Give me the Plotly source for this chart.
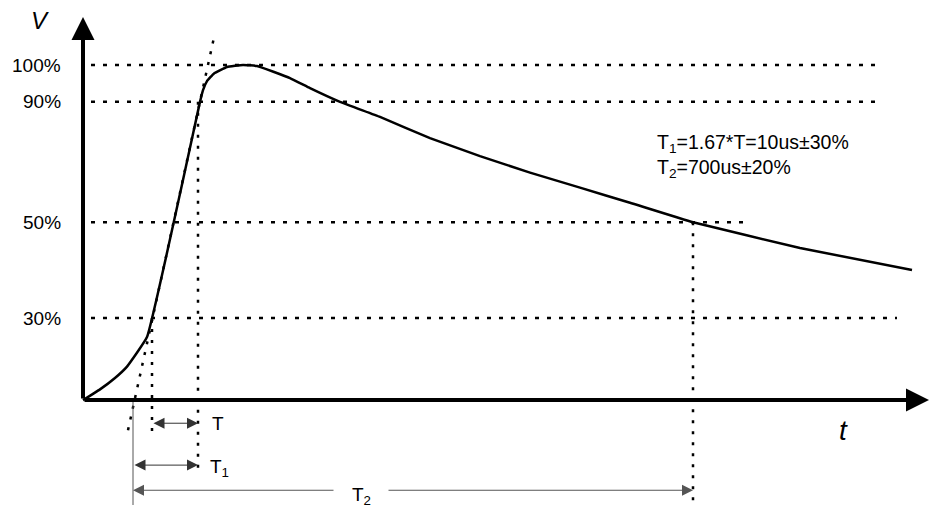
import plotly.graph_objects as go

# sketch units: t = time (arbitrary), v = level in % of peak (drawn as in the sketch)
curve_t = [0, 17, 32, 44, 64, 117, 120, 124, 131, 144, 160, 174, 207, 227, 257, 297, 347, 397, 447, 497, 547, 610, 717, 829]
curve_v = [0, 3.2, 6.6, 10.0, 18.8, 89.0, 92.5, 95.2, 97.5, 99.4, 100, 99.7, 96.1, 93.1, 89.0, 84.5, 78.2, 72.8, 67.9, 63.4, 58.9, 53.1, 45.4, 38.8]

level_labels = ["100%", "90%", "50%", "30%"]
level_v = [100, 89.0, 53.1, 24.5]
level_end_t = [799, 799, 662, 814]

tangent_t = [45, 132]
tangent_v = [-9.0, 109.6]

# vertical markers: t position, top, bottom
mark_t = [69, 115, 610]
mark_top = [24.5, 89.0, 53.1]
mark_bottom = [-11.0, -21.8, -31.3]

t_start = 50     # virtual origin from tangent
t_30 = 69
t_90 = 115
t_half = 610

BLACK = "#000000"
FONT = "Liberation Sans, Arial, sans-serif"

fig = go.Figure()

for lab, v, t_end in zip(level_labels, level_v, level_end_t):
    fig.add_trace(go.Scatter(
        x=[8, t_end], y=[v, v], mode="lines",
        line=dict(color=BLACK, width=2.5, dash="4px,8px"),
        hoverinfo="skip", showlegend=False,
    ))

for t, top, bot in zip(mark_t, mark_top, mark_bottom):
    fig.add_trace(go.Scatter(
        x=[t, t], y=[top, bot], mode="lines",
        line=dict(color=BLACK, width=2.5, dash="3px,8px"),
        hoverinfo="skip", showlegend=False,
    ))

fig.add_trace(go.Scatter(
    x=tangent_t, y=tangent_v, mode="lines",
    line=dict(color=BLACK, width=2.5, dash="3px,8px"),
    hoverinfo="skip", showlegend=False,
))

# thin vertical from the virtual origin
fig.add_trace(go.Scatter(
    x=[t_start, t_start], y=[0, -31.3], mode="lines",
    line=dict(color="#555555", width=1),
    hoverinfo="skip", showlegend=False,
))

fig.add_trace(go.Scatter(
    x=curve_t, y=curve_v, mode="lines",
    line=dict(color=BLACK, width=2.5, shape="spline", smoothing=0.3),
    hoverinfo="skip", showlegend=False,
))

annotations = []


def arrow(x, y, ax, ay, width, size, both=False, color=BLACK):
    return dict(
        x=x, y=y, ax=ax, ay=ay, xref="x", yref="y", axref="x", ayref="y",
        text="", showarrow=True, arrowhead=2, arrowwidth=width, arrowsize=size,
        arrowcolor=color, standoff=0, startstandoff=0,
        arrowside="end+start" if both else "end", startarrowhead=2, startarrowsize=size,
    )


# axes
annotations.append(arrow(0, 114.3, 0, 0, 4, 1.15))
annotations.append(arrow(846, 0, 0, 0, 4, 1.15))

# time intervals
annotations.append(arrow(t_90, -6.9, t_30, -6.9, 1, 2.2, both=True, color="#333333"))
annotations.append(arrow(t_90, -19.4, t_start, -19.4, 1, 2.2, both=True, color="#333333"))
annotations.append(arrow(t_start, -26.9, 252, -26.9, 1, 2.2, color="#555555"))
annotations.append(arrow(t_half, -26.9, 304, -26.9, 1, 2.2, color="#555555"))

for lab, v in zip(level_labels, level_v):
    annotations.append(dict(
        x=-20, y=v, xref="x", yref="y", text=lab, showarrow=False,
        xanchor="right", yanchor="middle", font=dict(size=19, color=BLACK, family=FONT),
    ))

annotations += [
    dict(x=-43, y=113.4, text="<i>V</i>", font=dict(size=24)),
    dict(x=760, y=-9.0, text="<i>t</i>", font=dict(size=28)),
    dict(x=127, y=-6.9, text="T", xanchor="left", font=dict(size=19)),
    dict(x=125, y=-20.4, text="T<sub>1</sub>", xanchor="left", font=dict(size=19)),
    dict(x=278, y=-28.5, text="T<sub>2</sub>", font=dict(size=19)),
    dict(x=572, y=76.7, text="T<sub>1</sub>=1.67*T=10us±30%", xanchor="left", font=dict(size=19.5)),
    dict(x=572, y=69.2, text="T<sub>2</sub>=700us±20%", xanchor="left", font=dict(size=19.5)),
]
for a in annotations:
    if a.get("text"):
        a.setdefault("xref", "x")
        a.setdefault("yref", "y")
        a.setdefault("showarrow", False)
        a["font"] = dict(family=FONT, color=BLACK, size=a["font"]["size"])

fig.update_layout(
    width=929, height=505,
    margin=dict(l=0, r=0, t=0, b=0),
    paper_bgcolor="white", plot_bgcolor="white",
    xaxis=dict(range=[-83, 846], visible=False, fixedrange=True),
    yaxis=dict(range=[-31.3, 119.4], visible=False, fixedrange=True),
    annotations=annotations,
    showlegend=False,
)

fig.write_html(
    "out.html",
    config={"displayModeBar": False},
    post_script="document.body.style.margin='0';",
)
